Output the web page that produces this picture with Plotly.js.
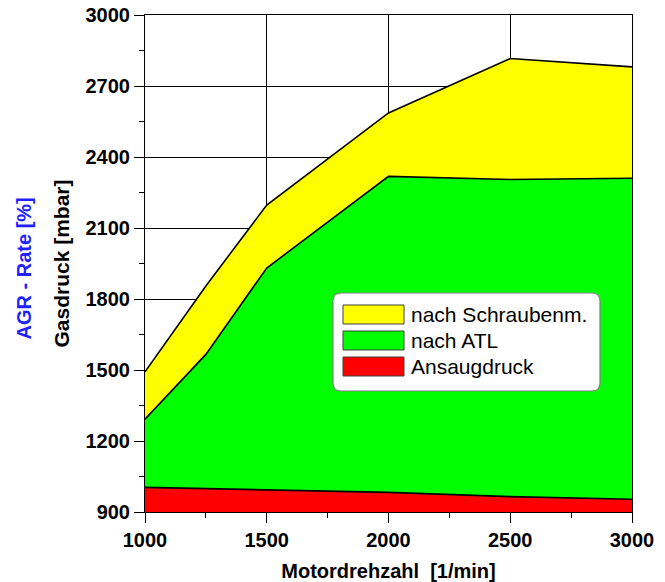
<!DOCTYPE html>
<html>
<head>
<meta charset="utf-8">
<script src="https://cdn.plot.ly/plotly-3.0.1.min.js"></script>
<style>html,body{margin:0;padding:0;background:#fff;}#chart{width:665px;height:582px;}</style>
</head>
<body>
<div id="chart"></div>
<script>
const drehzahl = [1000, 1250, 1500, 2000, 2500, 3000];
const ansaugdruck = [1004, 999, 994, 983, 965, 954];
const nachATL = [1292, 1566, 1931, 2318, 2305, 2310];
const nachSchraubenm = [1492, 1855, 2197, 2586, 2816, 2781];
const seriesNames = ["Ansaugdruck", "nach ATL", "nach Schraubenm."];
const seriesColors = ["#FF0000", "#00FF00", "#FFFF00"];
const xTicks = [1000, 1500, 2000, 2500, 3000];
const yTicks = [900, 1200, 1500, 1800, 2100, 2400, 2700, 3000];

const FONT = "Arial, 'Liberation Sans', sans-serif";
const seriesValues = [ansaugdruck, nachATL, nachSchraubenm];

const traces = seriesValues.map((vals, i) => ({
  x: drehzahl, y: vals, type: 'scatter', mode: 'lines',
  name: seriesNames[i],
  line: {color: '#000000', width: 1.6},
  fill: i === 0 ? 'tozeroy' : 'tonexty',
  fillcolor: seriesColors[i],
  showlegend: false,
  hoverinfo: 'x+y+name'
}));

// custom legend (box, swatches, labels) in paper coordinates
const px = v => (v - 145) / 487;
const py = v => (512 - v) / 497;
const shapes = [];
const annotations = [];
{
  const x0 = px(333), x1 = px(600), y0 = py(391), y1 = py(293);
  const rx = 8 / 487, ry = 8 / 497;
  const path = `M${x0 + rx},${y1} L${x1 - rx},${y1} Q${x1},${y1} ${x1},${y1 - ry} L${x1},${y0 + ry} Q${x1},${y0} ${x1 - rx},${y0} L${x0 + rx},${y0} Q${x0},${y0} ${x0},${y0 + ry} L${x0},${y1 - ry} Q${x0},${y1} ${x0 + rx},${y1} Z`;
  shapes.push({type: 'path', xref: 'paper', yref: 'paper', path: path,
    fillcolor: '#FFFFFF', line: {color: '#808080', width: 1.2}, layer: 'above'});
  const rows = [[305, 324], [331, 350], [357, 376]];
  const order = [2, 1, 0];
  rows.forEach((r, k) => {
    const si = order[k];
    shapes.push({type: 'rect', xref: 'paper', yref: 'paper',
      x0: px(343), x1: px(404), y0: py(r[1]), y1: py(r[0]),
      fillcolor: seriesColors[si], line: {color: '#404040', width: 1}, layer: 'above'});
    annotations.push({xref: 'paper', yref: 'paper', x: px(409), y: py((r[0] + r[1]) / 2),
      xanchor: 'left', yanchor: 'middle', showarrow: false, text: seriesNames[si],
      font: {family: FONT, size: 21, color: '#000000'}});
  });
}
annotations.push({xref: 'paper', yref: 'paper', x: px(24), y: 0.49, xanchor: 'center', yanchor: 'middle',
  showarrow: false, textangle: -90, text: '<b>AGR - Rate [%]</b>',
  font: {family: FONT, size: 20, color: '#1F1FFF'}});

const layout = {
  width: 665, height: 582,
  margin: {l: 145, r: 33, t: 15, b: 70, pad: 0},
  paper_bgcolor: '#FFFFFF', plot_bgcolor: '#FFFFFF',
  showlegend: false,
  font: {family: FONT, color: '#000000'},
  xaxis: {
    range: [1000, 3000], tickvals: xTicks, ticktext: xTicks.map(String),
    ticks: 'outside', ticklen: 10, tickcolor: '#000', tickwidth: 1,
    showgrid: true, gridcolor: '#000000', gridwidth: 1,
    showline: true, linecolor: '#000000', linewidth: 1, mirror: true,
    zeroline: false,
    tickfont: {family: FONT, size: 20, color: '#000', weight: 'bold'},
    minor: {dtick: 250, ticks: 'outside', ticklen: 5, tickcolor: '#000', showgrid: false},
    title: {text: '<b>Motordrehzahl \u00a0[1/min]</b>', font: {family: FONT, size: 20, color: '#000'}, standoff: 13}
  },
  yaxis: {
    range: [900, 3000], tickvals: yTicks, ticktext: yTicks.map(String),
    ticks: 'outside', ticklen: 10, tickcolor: '#000', tickwidth: 1,
    showgrid: true, gridcolor: '#000000', gridwidth: 1,
    showline: true, linecolor: '#000000', linewidth: 1, mirror: true,
    zeroline: false,
    tickfont: {family: FONT, size: 20, color: '#000', weight: 'bold'},
    minor: {dtick: 150, ticks: 'outside', ticklen: 5, tickcolor: '#000', showgrid: false},
    title: {text: '<b>Gasdruck [mbar]</b>', font: {family: FONT, size: 21, color: '#000'}, standoff: 10}
  },
  shapes: shapes,
  annotations: annotations
};

Plotly.newPlot('chart', traces, layout, {displayModeBar: false, responsive: false});
</script>
</body>
</html>
